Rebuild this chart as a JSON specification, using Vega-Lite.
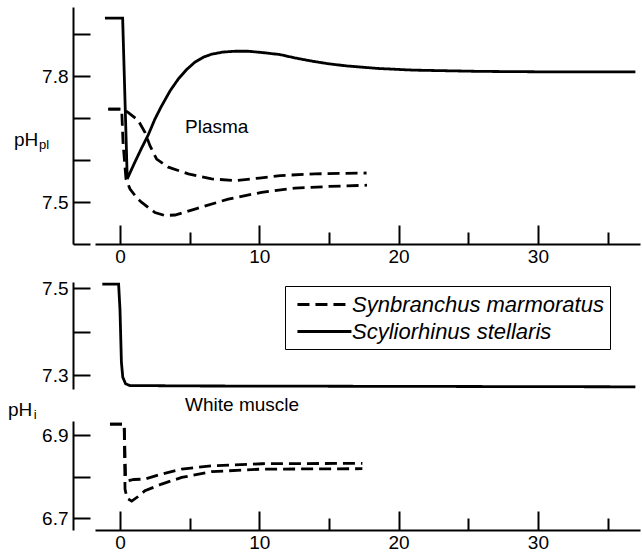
{
  "$schema": "https://vega.github.io/schema/vega-lite/v6.json",
  "padding": {"left": 8, "top": 7, "right": 2, "bottom": 1},
  "config": {
    "font": "Liberation Sans",
    "view": {"stroke": null},
    "axis": {"domainColor": "black", "domainWidth": 2, "tickColor": "black", "tickWidth": 2, "labelColor": "black", "labelFontSize": 19, "labelFont": "Liberation Sans", "grid": false, "title": null, "labelFlush": false, "labelOverlap": false},
    "axisY": {"offset": 22, "tickSize": -17, "labelPadding": 22},
    "axisX": {"labelPadding": 22},
    "line": {"strokeWidth": 2.8, "color": "black"},
    "text": {"color": "black", "font": "Liberation Sans", "fontSize": 19}
  },
  "datasets": {
    "curves": [
      {"panel": "plasma", "species": "Scyliorhinus stellaris", "curve": "s", "t": -1.08, "ph": 7.938},
      {"panel": "plasma", "species": "Scyliorhinus stellaris", "curve": "s", "t": 0.19, "ph": 7.938},
      {"panel": "plasma", "species": "Scyliorhinus stellaris", "curve": "s", "t": 0.52, "ph": 7.555},
      {"panel": "plasma", "species": "Scyliorhinus stellaris", "curve": "s", "t": 1.0, "ph": 7.59},
      {"panel": "plasma", "species": "Scyliorhinus stellaris", "curve": "s", "t": 1.5, "ph": 7.625},
      {"panel": "plasma", "species": "Scyliorhinus stellaris", "curve": "s", "t": 2.03, "ph": 7.66},
      {"panel": "plasma", "species": "Scyliorhinus stellaris", "curve": "s", "t": 2.5, "ph": 7.697},
      {"panel": "plasma", "species": "Scyliorhinus stellaris", "curve": "s", "t": 2.99, "ph": 7.729},
      {"panel": "plasma", "species": "Scyliorhinus stellaris", "curve": "s", "t": 3.6, "ph": 7.765},
      {"panel": "plasma", "species": "Scyliorhinus stellaris", "curve": "s", "t": 4.19, "ph": 7.793},
      {"panel": "plasma", "species": "Scyliorhinus stellaris", "curve": "s", "t": 4.8, "ph": 7.816},
      {"panel": "plasma", "species": "Scyliorhinus stellaris", "curve": "s", "t": 5.38, "ph": 7.833},
      {"panel": "plasma", "species": "Scyliorhinus stellaris", "curve": "s", "t": 6.0, "ph": 7.845},
      {"panel": "plasma", "species": "Scyliorhinus stellaris", "curve": "s", "t": 6.58, "ph": 7.852},
      {"panel": "plasma", "species": "Scyliorhinus stellaris", "curve": "s", "t": 7.4, "ph": 7.857},
      {"panel": "plasma", "species": "Scyliorhinus stellaris", "curve": "s", "t": 8.26, "ph": 7.859},
      {"panel": "plasma", "species": "Scyliorhinus stellaris", "curve": "s", "t": 9.2, "ph": 7.859},
      {"panel": "plasma", "species": "Scyliorhinus stellaris", "curve": "s", "t": 10.17, "ph": 7.856},
      {"panel": "plasma", "species": "Scyliorhinus stellaris", "curve": "s", "t": 11.49, "ph": 7.851},
      {"panel": "plasma", "species": "Scyliorhinus stellaris", "curve": "s", "t": 12.56, "ph": 7.843},
      {"panel": "plasma", "species": "Scyliorhinus stellaris", "curve": "s", "t": 13.85, "ph": 7.835},
      {"panel": "plasma", "species": "Scyliorhinus stellaris", "curve": "s", "t": 15.0, "ph": 7.829},
      {"panel": "plasma", "species": "Scyliorhinus stellaris", "curve": "s", "t": 16.27, "ph": 7.824},
      {"panel": "plasma", "species": "Scyliorhinus stellaris", "curve": "s", "t": 18.5, "ph": 7.818},
      {"panel": "plasma", "species": "Scyliorhinus stellaris", "curve": "s", "t": 21.03, "ph": 7.814},
      {"panel": "plasma", "species": "Scyliorhinus stellaris", "curve": "s", "t": 25.84, "ph": 7.811},
      {"panel": "plasma", "species": "Scyliorhinus stellaris", "curve": "s", "t": 30.0, "ph": 7.81},
      {"panel": "plasma", "species": "Scyliorhinus stellaris", "curve": "s", "t": 37.0, "ph": 7.81},

      {"panel": "plasma", "species": "Synbranchus marmoratus", "curve": "a", "t": -0.84, "ph": 7.721},
      {"panel": "plasma", "species": "Synbranchus marmoratus", "curve": "a", "t": 0.2, "ph": 7.721},
      {"panel": "plasma", "species": "Synbranchus marmoratus", "curve": "a", "t": 0.6, "ph": 7.713},
      {"panel": "plasma", "species": "Synbranchus marmoratus", "curve": "a", "t": 1.31, "ph": 7.694},
      {"panel": "plasma", "species": "Synbranchus marmoratus", "curve": "a", "t": 1.79, "ph": 7.666},
      {"panel": "plasma", "species": "Synbranchus marmoratus", "curve": "a", "t": 2.15, "ph": 7.634},
      {"panel": "plasma", "species": "Synbranchus marmoratus", "curve": "a", "t": 2.63, "ph": 7.602},
      {"panel": "plasma", "species": "Synbranchus marmoratus", "curve": "a", "t": 3.47, "ph": 7.583},
      {"panel": "plasma", "species": "Synbranchus marmoratus", "curve": "a", "t": 4.9, "ph": 7.567},
      {"panel": "plasma", "species": "Synbranchus marmoratus", "curve": "a", "t": 6.58, "ph": 7.555},
      {"panel": "plasma", "species": "Synbranchus marmoratus", "curve": "a", "t": 8.26, "ph": 7.551},
      {"panel": "plasma", "species": "Synbranchus marmoratus", "curve": "a", "t": 10.0, "ph": 7.557},
      {"panel": "plasma", "species": "Synbranchus marmoratus", "curve": "a", "t": 11.5, "ph": 7.563},
      {"panel": "plasma", "species": "Synbranchus marmoratus", "curve": "a", "t": 14.0, "ph": 7.567},
      {"panel": "plasma", "species": "Synbranchus marmoratus", "curve": "a", "t": 17.7, "ph": 7.569},

      {"panel": "plasma", "species": "Synbranchus marmoratus", "curve": "b", "t": -0.84, "ph": 7.721},
      {"panel": "plasma", "species": "Synbranchus marmoratus", "curve": "b", "t": 0.12, "ph": 7.721},
      {"panel": "plasma", "species": "Synbranchus marmoratus", "curve": "b", "t": 0.22, "ph": 7.64},
      {"panel": "plasma", "species": "Synbranchus marmoratus", "curve": "b", "t": 0.43, "ph": 7.555},
      {"panel": "plasma", "species": "Synbranchus marmoratus", "curve": "b", "t": 0.72, "ph": 7.531},
      {"panel": "plasma", "species": "Synbranchus marmoratus", "curve": "b", "t": 1.2, "ph": 7.51},
      {"panel": "plasma", "species": "Synbranchus marmoratus", "curve": "b", "t": 1.56, "ph": 7.499},
      {"panel": "plasma", "species": "Synbranchus marmoratus", "curve": "b", "t": 2.51, "ph": 7.475},
      {"panel": "plasma", "species": "Synbranchus marmoratus", "curve": "b", "t": 3.2, "ph": 7.468},
      {"panel": "plasma", "species": "Synbranchus marmoratus", "curve": "b", "t": 3.95, "ph": 7.469},
      {"panel": "plasma", "species": "Synbranchus marmoratus", "curve": "b", "t": 5.38, "ph": 7.483},
      {"panel": "plasma", "species": "Synbranchus marmoratus", "curve": "b", "t": 7.77, "ph": 7.507},
      {"panel": "plasma", "species": "Synbranchus marmoratus", "curve": "b", "t": 10.17, "ph": 7.523},
      {"panel": "plasma", "species": "Synbranchus marmoratus", "curve": "b", "t": 12.56, "ph": 7.533},
      {"panel": "plasma", "species": "Synbranchus marmoratus", "curve": "b", "t": 15.0, "ph": 7.537},
      {"panel": "plasma", "species": "Synbranchus marmoratus", "curve": "b", "t": 17.73, "ph": 7.54},

      {"panel": "muscleHigh", "species": "Scyliorhinus stellaris", "curve": "s", "t": -1.27, "ph": 7.509},
      {"panel": "muscleHigh", "species": "Scyliorhinus stellaris", "curve": "s", "t": -0.1, "ph": 7.509},
      {"panel": "muscleHigh", "species": "Scyliorhinus stellaris", "curve": "s", "t": 0.0, "ph": 7.45},
      {"panel": "muscleHigh", "species": "Scyliorhinus stellaris", "curve": "s", "t": 0.1, "ph": 7.33},
      {"panel": "muscleHigh", "species": "Scyliorhinus stellaris", "curve": "s", "t": 0.2, "ph": 7.295},
      {"panel": "muscleHigh", "species": "Scyliorhinus stellaris", "curve": "s", "t": 0.4, "ph": 7.28},
      {"panel": "muscleHigh", "species": "Scyliorhinus stellaris", "curve": "s", "t": 0.7, "ph": 7.276},
      {"panel": "muscleHigh", "species": "Scyliorhinus stellaris", "curve": "s", "t": 5.0, "ph": 7.275},
      {"panel": "muscleHigh", "species": "Scyliorhinus stellaris", "curve": "s", "t": 37.0, "ph": 7.273},

      {"panel": "muscleLow", "species": "Synbranchus marmoratus", "curve": "a", "t": -0.72, "ph": 6.9265},
      {"panel": "muscleLow", "species": "Synbranchus marmoratus", "curve": "a", "t": 0.3, "ph": 6.9265},
      {"panel": "muscleLow", "species": "Synbranchus marmoratus", "curve": "a", "t": 0.4, "ph": 6.8},
      {"panel": "muscleLow", "species": "Synbranchus marmoratus", "curve": "a", "t": 0.6, "ph": 6.79},
      {"panel": "muscleLow", "species": "Synbranchus marmoratus", "curve": "a", "t": 1.0, "ph": 6.793},
      {"panel": "muscleLow", "species": "Synbranchus marmoratus", "curve": "a", "t": 1.79, "ph": 6.794},
      {"panel": "muscleLow", "species": "Synbranchus marmoratus", "curve": "a", "t": 2.99, "ph": 6.806},
      {"panel": "muscleLow", "species": "Synbranchus marmoratus", "curve": "a", "t": 4.43, "ph": 6.818},
      {"panel": "muscleLow", "species": "Synbranchus marmoratus", "curve": "a", "t": 6.58, "ph": 6.826},
      {"panel": "muscleLow", "species": "Synbranchus marmoratus", "curve": "a", "t": 10.17, "ph": 6.831},
      {"panel": "muscleLow", "species": "Synbranchus marmoratus", "curve": "a", "t": 17.4, "ph": 6.832},

      {"panel": "muscleLow", "species": "Synbranchus marmoratus", "curve": "b", "t": -0.72, "ph": 6.9265},
      {"panel": "muscleLow", "species": "Synbranchus marmoratus", "curve": "b", "t": 0.3, "ph": 6.9265},
      {"panel": "muscleLow", "species": "Synbranchus marmoratus", "curve": "b", "t": 0.36, "ph": 6.77},
      {"panel": "muscleLow", "species": "Synbranchus marmoratus", "curve": "b", "t": 0.5, "ph": 6.748},
      {"panel": "muscleLow", "species": "Synbranchus marmoratus", "curve": "b", "t": 0.84, "ph": 6.741},
      {"panel": "muscleLow", "species": "Synbranchus marmoratus", "curve": "b", "t": 1.3, "ph": 6.752},
      {"panel": "muscleLow", "species": "Synbranchus marmoratus", "curve": "b", "t": 1.79, "ph": 6.766},
      {"panel": "muscleLow", "species": "Synbranchus marmoratus", "curve": "b", "t": 2.99, "ph": 6.782},
      {"panel": "muscleLow", "species": "Synbranchus marmoratus", "curve": "b", "t": 4.43, "ph": 6.798},
      {"panel": "muscleLow", "species": "Synbranchus marmoratus", "curve": "b", "t": 6.58, "ph": 6.812},
      {"panel": "muscleLow", "species": "Synbranchus marmoratus", "curve": "b", "t": 10.17, "ph": 6.818},
      {"panel": "muscleLow", "species": "Synbranchus marmoratus", "curve": "b", "t": 17.4, "ph": 6.819}
    ]
  },
  "spacing": 38,
  "bounds": "flush",
  "resolve": {"scale": {"strokeDash": "independent"}, "legend": {"strokeDash": "independent"}},
  "vconcat": [
    {
      "width": 545,
      "height": 237,
      "layer": [
        {
          "data": {"name": "curves"},
          "transform": [{"filter": "datum.panel === 'plasma'"}],
          "mark": {"type": "line", "strokeWidth": 2.8, "color": "black"},
          "encoding": {
            "x": {"field": "t", "type": "quantitative", "scale": {"domain": [-1.795, 37.33], "nice": false, "zero": false},
                  "axis": {"values": [0, 5, 10, 15, 20, 25, 30, 35], "labelExpr": "datum.value % 10 === 0 ? datum.label : ''",
                           "tickSize": {"condition": {"test": "datum.value % 10 === 0", "value": -19}, "value": -12}}},
            "y": {"field": "ph", "type": "quantitative", "scale": {"domain": [7.4, 7.9643], "nice": false, "zero": false},
                  "axis": {"values": [7.4, 7.5, 7.6, 7.7, 7.8, 7.9], "labelExpr": "(abs(datum.value - 7.8) < 0.001 || abs(datum.value - 7.5) < 0.001) ? format(datum.value, '.1f') : ''"}},
            "detail": {"field": "curve"},
            "strokeDash": {"field": "species", "type": "nominal", "scale": {"domain": ["Synbranchus marmoratus", "Scyliorhinus stellaris"], "range": [[12, 6], [1, 0]]}, "legend": null}
          }
        },
        {
          "data": {"values": [{}]},
          "mark": {"type": "text", "text": "Plasma", "align": "left", "baseline": "middle", "fontSize": 19},
          "encoding": {"x": {"datum": 4.67, "type": "quantitative"}, "y": {"datum": 7.679, "type": "quantitative"}}
        },
        {
          "data": {"values": [{}]},
          "mark": {"type": "text", "text": "pH", "align": "left", "baseline": "alphabetic", "fontSize": 19},
          "encoding": {"x": {"datum": -7.61, "type": "quantitative"}, "y": {"datum": 7.6333, "type": "quantitative"}}
        },
        {
          "data": {"values": [{}]},
          "mark": {"type": "text", "text": "pl", "align": "left", "baseline": "alphabetic", "fontSize": 13},
          "encoding": {"x": {"datum": -5.82, "type": "quantitative"}, "y": {"datum": 7.626, "type": "quantitative"}}
        }
      ]
    },
    {
      "spacing": 32,
      "bounds": "flush",
      "resolve": {"scale": {"strokeDash": "independent"}, "legend": {"strokeDash": "independent"}},
      "vconcat": [
        {
          "width": 545,
          "height": 107,
          "data": {"name": "curves"},
          "transform": [{"filter": "datum.panel === 'muscleHigh'"}],
          "mark": {"type": "line", "strokeWidth": 2.8, "color": "black"},
          "encoding": {
            "x": {"field": "t", "type": "quantitative", "scale": {"domain": [-1.795, 37.33], "nice": false, "zero": false}, "axis": null},
            "y": {"field": "ph", "type": "quantitative", "scale": {"domain": [7.268, 7.514], "nice": false, "zero": false},
                  "axis": {"values": [7.3, 7.4, 7.5], "labelExpr": "(abs(datum.value - 7.3) < 0.001 || abs(datum.value - 7.5) < 0.001) ? format(datum.value, '.1f') : ''"}},
            "detail": {"field": "curve"},
            "strokeDash": {"field": "species", "type": "nominal",
              "scale": {"domain": ["Synbranchus marmoratus", "Scyliorhinus stellaris"], "range": [[12, 6], [1, 0]]},
              "legend": {"orient": "none", "legendX": 190, "legendY": 4, "title": null, "symbolType": "M-0.55,0H4.36", "symbolSize": 484,
                         "symbolStrokeWidth": 2.8, "symbolStrokeColor": "black", "symbolFillColor": "transparent", "labelFontSize": 22, "labelFontStyle": "italic",
                         "labelFont": "Liberation Sans", "labelColor": "black", "labelLimit": 400, "fillColor": "white", "strokeColor": "black",
                         "padding": 6, "rowPadding": 3, "labelOffset": 36}}
          }
        },
        {
          "width": 545,
          "height": 109,
          "layer": [
            {
              "data": {"name": "curves"},
              "transform": [{"filter": "datum.panel === 'muscleLow'"}],
              "mark": {"type": "line", "strokeWidth": 2.8, "color": "black"},
              "encoding": {
                "x": {"field": "t", "type": "quantitative", "scale": {"domain": [-1.795, 37.33], "nice": false, "zero": false},
                      "axis": {"values": [0, 5, 10, 15, 20, 25, 30, 35], "labelExpr": "datum.value % 10 === 0 ? datum.label : ''",
                               "tickSize": {"condition": {"test": "datum.value % 10 === 0", "value": -19}, "value": -12}}},
                "y": {"field": "ph", "type": "quantitative", "scale": {"domain": [6.6713, 6.934], "nice": false, "zero": false},
                      "axis": {"values": [6.7, 6.8, 6.9], "labelExpr": "(abs(datum.value - 6.7) < 0.001 || abs(datum.value - 6.9) < 0.001) ? format(datum.value, '.1f') : ''"}},
                "detail": {"field": "curve"},
                "strokeDash": {"field": "species", "type": "nominal", "scale": {"domain": ["Synbranchus marmoratus", "Scyliorhinus stellaris"], "range": [[12, 6], [1, 0]]}, "legend": null}
              }
            },
            {
              "data": {"values": [{}]},
              "mark": {"type": "text", "text": "White muscle", "align": "left", "baseline": "middle", "fontSize": 19},
              "encoding": {"x": {"datum": 4.67, "type": "quantitative"}, "y": {"datum": 6.972, "type": "quantitative"}}
            },
            {
              "data": {"values": [{}]},
              "mark": {"type": "text", "text": "pH", "align": "left", "baseline": "alphabetic", "fontSize": 19},
              "encoding": {"x": {"datum": -8.04, "type": "quantitative"}, "y": {"datum": 6.9458, "type": "quantitative"}}
            },
            {
              "data": {"values": [{}]},
              "mark": {"type": "text", "text": "i", "align": "left", "baseline": "alphabetic", "fontSize": 13},
              "encoding": {"x": {"datum": -6.2, "type": "quantitative"}, "y": {"datum": 6.9386, "type": "quantitative"}}
            }
          ]
        }
      ]
    }
  ]
}
